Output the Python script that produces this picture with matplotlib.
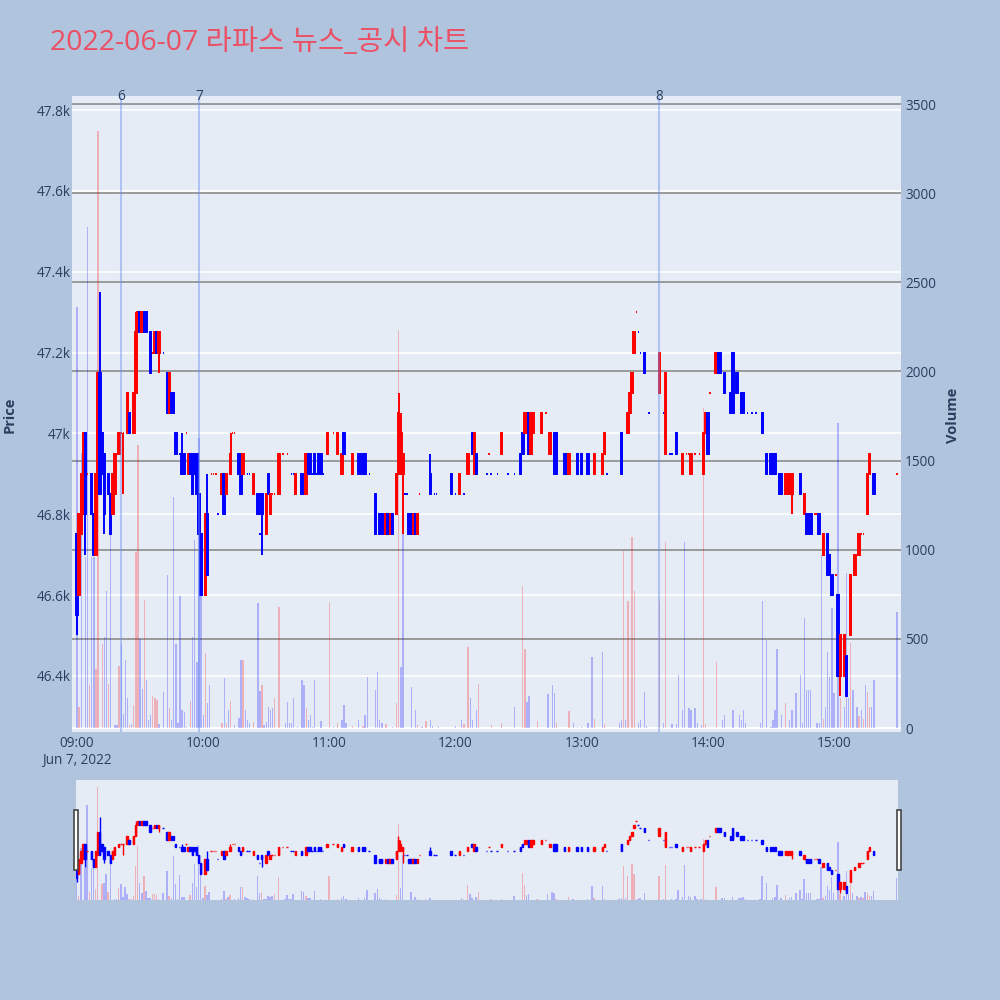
import matplotlib.pyplot as plt
import matplotlib.transforms as mtransforms
from matplotlib.patches import Rectangle
from matplotlib.ticker import FuncFormatter

plt.rcParams['font.family'] = ['Open Sans', 'Noto Sans CJK KR', 'DejaVu Sans']

title = '2022-06-07 라파스 뉴스_공시 차트'

# minute candles, minutes after 09:00
minute = [0, 1, 2, 3, 4, 5, 7, 8, 9, 10,
          11, 12, 13, 15, 16, 17, 18, 20, 21, 22,
          24, 25, 27, 28, 29, 30, 31, 32, 33, 35,
          36, 37, 38, 39, 41, 43, 44, 45, 46, 47,
          49, 50, 51, 52, 53, 54, 55, 56, 57, 58,
          59, 61, 62, 64, 65, 66, 67, 69, 70, 71,
          73, 74, 75, 77, 78, 79, 81, 82, 84, 86,
          87, 88, 90, 91, 92, 93, 94, 96, 98, 100,
          102, 103, 104, 107, 109, 110, 111, 112, 113, 114,
          115, 116, 117, 119, 122, 124, 126, 127, 131, 134,
          136, 137, 139, 142, 144, 145, 147, 148, 149, 150,
          152, 153, 154, 155, 156, 157, 158, 159, 160, 161,
          162, 163, 168, 170, 171, 178, 180, 182, 184, 186,
          188, 189, 190, 195, 196, 197, 200, 202, 205, 208,
          211, 212, 213, 214, 215, 216, 217, 221, 223, 225,
          227, 228, 232, 234, 238, 240, 243, 246, 250, 251,
          252, 259, 262, 263, 264, 265, 266, 267, 268, 270,
          272, 277, 279, 280, 282, 283, 285, 288, 290, 291,
          292, 294, 296, 298, 299, 300, 301, 304, 305, 306,
          308, 311, 312, 314, 316, 317, 319, 321, 323, 326,
          328, 330, 331, 332, 334, 335, 337, 338, 339, 340,
          344, 346, 347, 348, 349, 351, 352, 353, 355, 357,
          358, 359, 361, 362, 363, 365, 366, 368, 370, 372,
          373, 374, 376, 377, 379, 390]

opn = [46750, 46600, 46750, 46800, 47000, 46900, 46900, 46800, 46700, 46850,
       47150, 47000, 46950, 46900, 46850, 46800, 46850, 46950, 47000, 47000,
       47000, 47050, 47000, 47100, 47250, 47300, 47250, 47300, 47300, 47250,
       47200, 47200, 47250, 47200, 47200, 47150, 47050, 47100, 47100, 47000,
       46950, 46950, 46950, 47000, 46900, 46950, 46950, 46950, 46950, 46850,
       46750, 46600, 46800, 46900, 46900, 46900, 46800, 46850, 46900, 46850,
       46900, 47000, 47000, 46950, 46900, 46900, 46900, 46900, 46850, 46850,
       46750, 46850, 46750, 46900, 46800, 46850, 46850, 46850, 46950, 46950,
       46900, 46900, 46850, 46900, 46850, 46950, 46950, 46900, 46950, 46900,
       46950, 46950, 46900, 46950, 47000, 46950, 46900, 47000, 46900, 46950,
       46950, 46950, 46900, 46850, 46800, 46800, 46750, 46800, 46750, 46800,
       46800, 46900, 46900, 46900, 46850, 46850, 46800, 46800, 46750, 46800,
       46750, 46850, 46900, 46850, 46850, 46900, 46850, 46850, 46850, 46900,
       47000, 46900, 46950, 46900, 46950, 46900, 46900, 46950, 46900, 46900,
       46950, 47000, 47000, 47000, 47050, 46950, 47000, 47000, 47050, 46950,
       47000, 47000, 46950, 46900, 46950, 46950, 46950, 46900, 46900, 46950,
       46900, 47000, 47000, 47050, 47100, 47200, 47300, 47250, 47200, 47200,
       47050, 47100, 47050, 46950, 46950, 46950, 47000, 46900, 46950, 46950,
       46900, 46950, 46950, 46900, 47000, 47050, 47100, 47150, 47200, 47200,
       47150, 47100, 47200, 47150, 47100, 47100, 47050, 47050, 47050, 47050,
       46950, 46950, 46950, 46950, 46900, 46900, 46850, 46850, 46850, 46850,
       46900, 46800, 46800, 46800, 46800, 46800, 46800, 46800, 46700, 46750,
       46700, 46650, 46650, 46600, 46400, 46400, 46450, 46500, 46650, 46700,
       46750, 46750, 46800, 46900, 46900, 46900]

high = [46750, 46800, 46900, 47000, 47000, 46900, 46900, 46800, 46900, 47150,
        47350, 47000, 46950, 46900, 46850, 46900, 46950, 47000, 47000, 47000,
        47100, 47050, 47100, 47300, 47300, 47300, 47300, 47300, 47300, 47250,
        47200, 47250, 47250, 47250, 47200, 47150, 47150, 47100, 47100, 47000,
        46950, 47000, 46950, 47000, 46950, 46950, 46950, 46950, 46950, 46850,
        46750, 46800, 46900, 46900, 46900, 46900, 46800, 46900, 46900, 46900,
        47000, 47000, 47000, 46950, 46900, 46950, 46900, 46900, 46900, 46850,
        46750, 46850, 46850, 46900, 46850, 46850, 46850, 46950, 46950, 46950,
        46900, 46900, 46900, 46900, 46950, 46950, 46950, 46900, 46950, 46900,
        46950, 46950, 46900, 47000, 47000, 47000, 46950, 47000, 46950, 46950,
        46950, 46950, 46900, 46850, 46800, 46800, 46800, 46800, 46800, 46800,
        46900, 47100, 47050, 46950, 46850, 46850, 46800, 46800, 46800, 46800,
        46800, 46850, 46950, 46850, 46850, 46900, 46850, 46900, 46850, 46950,
        47000, 47000, 46950, 46900, 46950, 46900, 46900, 47000, 46900, 46900,
        46950, 47000, 47050, 47050, 47050, 47050, 47050, 47050, 47050, 47000,
        47000, 47000, 46950, 46950, 46950, 46950, 46950, 46950, 46950, 47000,
        46900, 47000, 47050, 47100, 47150, 47250, 47300, 47250, 47200, 47200,
        47050, 47200, 47050, 47150, 46950, 46950, 47000, 46950, 46950, 46950,
        46950, 46950, 46950, 47000, 47050, 47050, 47100, 47200, 47200, 47200,
        47150, 47100, 47200, 47150, 47100, 47100, 47050, 47050, 47050, 47050,
        46950, 46950, 46950, 46950, 46900, 46900, 46900, 46900, 46900, 46900,
        46900, 46850, 46800, 46800, 46800, 46800, 46800, 46800, 46750, 46750,
        46700, 46650, 46650, 46600, 46500, 46500, 46450, 46650, 46700, 46750,
        46750, 46750, 46900, 46950, 46900, 46900]

low = [46500, 46600, 46750, 46800, 46700, 46900, 46800, 46700, 46700, 46850,
       46850, 46900, 46750, 46850, 46750, 46800, 46850, 46950, 47000, 46850,
       47000, 47000, 47000, 47100, 47250, 47250, 47250, 47250, 47250, 47150,
       47200, 47200, 47200, 47150, 47200, 47050, 47050, 47050, 47050, 46950,
       46950, 46900, 46900, 47000, 46900, 46900, 46850, 46900, 46850, 46750,
       46600, 46600, 46650, 46900, 46900, 46900, 46800, 46850, 46800, 46850,
       46900, 47000, 47000, 46900, 46850, 46900, 46900, 46900, 46850, 46800,
       46750, 46700, 46750, 46850, 46800, 46850, 46850, 46850, 46950, 46950,
       46900, 46900, 46850, 46850, 46850, 46900, 46900, 46900, 46900, 46900,
       46900, 46900, 46900, 46950, 47000, 46950, 46900, 46950, 46900, 46900,
       46900, 46900, 46900, 46750, 46750, 46750, 46750, 46750, 46750, 46750,
       46800, 46900, 46900, 46750, 46850, 46850, 46750, 46750, 46750, 46750,
       46750, 46850, 46850, 46850, 46850, 46850, 46850, 46850, 46850, 46900,
       46950, 46900, 46900, 46900, 46950, 46900, 46900, 46950, 46900, 46900,
       46900, 46950, 47000, 47000, 46950, 46950, 47000, 47000, 47050, 46950,
       46900, 46900, 46900, 46900, 46900, 46900, 46900, 46900, 46900, 46950,
       46900, 46900, 47000, 47050, 47100, 47200, 47300, 47250, 47200, 47150,
       47050, 47100, 47050, 46950, 46950, 46950, 46950, 46900, 46950, 46950,
       46900, 46950, 46950, 46900, 47000, 46950, 47100, 47150, 47150, 47150,
       47100, 47050, 47050, 47100, 47050, 47050, 47050, 47050, 47050, 47000,
       46900, 46900, 46900, 46900, 46850, 46850, 46850, 46850, 46850, 46800,
       46850, 46800, 46750, 46750, 46750, 46800, 46800, 46750, 46700, 46650,
       46650, 46600, 46650, 46400, 46350, 46400, 46350, 46500, 46650, 46700,
       46750, 46750, 46800, 46900, 46850, 46900]

close = [46550, 46800, 46900, 47000, 46800, 46900, 46800, 46700, 46900, 47150,
         46850, 46900, 46800, 46850, 46750, 46900, 46950, 47000, 47000, 47000,
         47100, 47000, 47100, 47250, 47300, 47250, 47300, 47250, 47250, 47150,
         47200, 47250, 47200, 47250, 47200, 47050, 47150, 47050, 47050, 46950,
         46950, 46900, 46900, 47000, 46950, 46900, 46850, 46900, 46850, 46750,
         46600, 46800, 46650, 46900, 46900, 46900, 46800, 46900, 46800, 46900,
         46950, 47000, 47000, 46900, 46850, 46950, 46900, 46900, 46900, 46800,
         46750, 46800, 46850, 46850, 46850, 46850, 46850, 46950, 46950, 46950,
         46900, 46900, 46900, 46850, 46950, 46900, 46900, 46900, 46900, 46900,
         46900, 46900, 46900, 47000, 47000, 47000, 46950, 46950, 46950, 46900,
         46900, 46900, 46900, 46750, 46750, 46750, 46800, 46750, 46800, 46750,
         46900, 47050, 47000, 46950, 46850, 46850, 46750, 46750, 46800, 46750,
         46800, 46850, 46850, 46850, 46850, 46850, 46850, 46900, 46850, 46950,
         46950, 47000, 46900, 46900, 46950, 46900, 46900, 47000, 46900, 46900,
         46900, 46950, 47050, 47050, 46950, 47050, 47050, 47050, 47050, 47000,
         46900, 46900, 46900, 46950, 46900, 46900, 46900, 46950, 46950, 47000,
         46900, 46900, 47050, 47100, 47150, 47250, 47300, 47250, 47200, 47150,
         47050, 47200, 47050, 47150, 46950, 46950, 46950, 46950, 46950, 46950,
         46950, 46950, 46950, 47000, 47050, 46950, 47100, 47200, 47150, 47150,
         47100, 47050, 47050, 47100, 47050, 47050, 47050, 47050, 47050, 47000,
         46900, 46900, 46900, 46900, 46850, 46850, 46900, 46900, 46900, 46900,
         46850, 46850, 46750, 46750, 46750, 46800, 46800, 46750, 46750, 46650,
         46650, 46600, 46650, 46400, 46500, 46500, 46350, 46650, 46700, 46750,
         46750, 46750, 46900, 46950, 46850, 46900]

# volume bars (red = buying, blue = selling)
vol_up_min = [1, 6, 9, 10, 12, 15, 20, 25, 27, 28,
              29, 32, 36, 37, 38, 44, 54, 61, 69, 71,
              73, 79, 84, 88, 94, 96, 109, 120, 124, 131,
              136, 147, 152, 153, 162, 166, 184, 186, 191, 197,
              202, 212, 213, 219, 228, 234, 246, 251, 260, 262,
              264, 265, 277, 280, 298, 299, 304, 337, 355, 363,
              368, 372, 374, 376, 377]
vol_up = [120, 240, 330, 3350, 470, 250, 350, 15, 130, 990,
          1590, 718, 180, 170, 160, 110, 150, 420, 26, 26,
          150, 381, 35, 241, 166, 680, 110, 708, 30, 10,
          10, 25, 138, 2232, 20, 40, 25, 456, 250, 20,
          30, 796, 446, 40, 30, 96, 50, 25, 994, 712,
          1070, 770, 712, 1045, 1795, 25, 372, 140, 50, 166,
          475, 70, 50, 204, 120]

vol_dn_min = [0, 2, 4, 5, 7, 8, 13, 14, 16, 18,
              19, 21, 22, 23, 24, 26, 30, 31, 33, 34,
              35, 39, 41, 43, 45, 46, 47, 48, 49, 50,
              51, 52, 55, 56, 57, 58, 59, 60, 62, 63,
              70, 72, 75, 77, 78, 80, 81, 82, 86, 87,
              89, 90, 91, 92, 93, 99, 100, 101, 102, 103,
              105, 107, 108, 110, 111, 112, 113, 116, 122, 126,
              127, 128, 134, 137, 138, 142, 143, 144, 145, 150,
              154, 155, 159, 161, 164, 168, 169, 172, 180, 183,
              187, 188, 190, 208, 214, 215, 224, 226, 227, 236,
              238, 240, 243, 245, 250, 258, 259, 261, 267, 268,
              270, 271, 279, 283, 285, 286, 288, 289, 291, 292,
              294, 295, 297, 307, 308, 312, 315, 316, 317, 318,
              325, 326, 328, 330, 331, 332, 333, 335, 339, 340,
              342, 344, 345, 346, 347, 348, 349, 352, 353, 354,
              356, 357, 358, 359, 360, 362, 365, 366, 367, 369,
              371, 373, 375, 378, 379, 390]
vol_dn = [2360, 1540, 960, 2810, 960, 960, 510, 770, 1250, 20,
          15, 470, 80, 380, 170, 25, 500, 220, 270, 45,
          73, 25, 204, 858, 45, 1297, 470, 26, 740, 100,
          90, 5, 510, 1054, 372, 1626, 740, 73, 138, 241,
          280, 101, 15, 55, 381, 101, 45, 26, 700, 210,
          15, 35, 120, 101, 110, 26, 148, 30, 26, 166,
          5, 269, 241, 45, 73, 5, 269, 40, 5, 45,
          129, 26, 45, 73, 288, 213, 316, 45, 26, 5,
          344, 1340, 232, 101, 5, 45, 10, 5, 10, 45,
          166, 45, 101, 120, 148, 180, 189, 241, 195, 26,
          5, 5, 26, 400, 428, 26, 45, 45, 26, 45,
          204, 10, 30, 25, 25, 297, 101, 1045, 110, 101,
          110, 26, 20, 45, 73, 101, 73, 45, 101, 26,
          26, 712, 493, 5, 45, 101, 446, 73, 45, 101,
          195, 297, 26, 617, 213, 213, 213, 26, 26, 970,
          120, 428, 288, 672, 195, 1710, 120, 868, 166, 213,
          120, 101, 241, 120, 269, 652]

# news / disclosure markers
news_min = [21, 58, 277]
news_label = ['6', '7', '8']

hour_ticks = [0, 60, 120, 180, 240, 300, 360]
hour_labels = ['09:00\nJun 7, 2022', '10:00', '11:00', '12:00', '13:00', '14:00', '15:00']

UP = '#ff0000'
DOWN = '#0000ff'
TXT = '#2a3f5f'
BG = '#e5ecf6'
PAPER = '#b0c4de'

P_LIM = (46261, 47835)
V_LIM = (-22, 3545)


def candle_colors():
    cols = []
    prev_c, prev_col = close[0], DOWN
    for o, c in zip(opn, close):
        if c > o:
            col = UP
        elif c < o:
            col = DOWN
        elif c > prev_c:
            col = UP
        elif c < prev_c:
            col = DOWN
        else:
            col = prev_col
        cols.append(col)
        prev_c, prev_col = c, col
    return cols


def draw_candles(a, cols, width, lw):
    a.vlines(minute, low, high, colors=cols, lw=lw, zorder=3)
    heights = [c - o for o, c in zip(opn, close)]
    a.bar(minute, heights, width, bottom=opn, color=cols, edgecolor=cols,
          lw=lw, zorder=3)


def draw_volume(a, width):
    a.bar(vol_up_min, vol_up, width, color=UP, alpha=0.25, lw=0, zorder=2)
    a.bar(vol_dn_min, vol_dn, width, color=DOWN, alpha=0.25, lw=0, zorder=2)


cols = candle_colors()

fig = plt.figure(figsize=(10, 10), dpi=100, facecolor=PAPER)
fig.text(0.05, 0.95, title, fontsize=20.5, color='#eb5064', va='baseline')

# main chart: price (left) over volume (right)
ax = fig.add_axes([0.072, 0.268, 0.829, 0.636])
axv = ax.twinx()
ax.set_zorder(axv.get_zorder() + 1)
ax.patch.set_visible(False)
axv.patch.set_visible(True)
axv.set_facecolor(BG)

ax.set_xlim(-2.4, 391.9)
ax.set_ylim(*P_LIM)
axv.set_ylim(*V_LIM)

price_ticks = [46400, 46600, 46800, 47000, 47200, 47400, 47600, 47800]
grid_tr = mtransforms.blended_transform_factory(axv.transAxes, ax.transData)
for p in price_ticks:
    axv.plot([0, 1], [p, p], color='white', lw=1.2, transform=grid_tr, zorder=0.5)

vol_ticks = [0, 500, 1000, 1500, 2000, 2500, 3000, 3500]
axv.set_yticks(vol_ticks)
axv.grid(axis='y', color='#8c8c8c', lw=1.2, zorder=0.6)
axv.set_axisbelow(True)
axv.axhline(0, color='white', lw=1.5, zorder=0.7)

draw_volume(axv, 0.65)
draw_candles(ax, cols, 0.7, 1.4)

top_tr = mtransforms.blended_transform_factory(ax.transData, ax.transAxes)
for m, lab in zip(news_min, news_label):
    ax.axvline(m, color='#6f8ff0', alpha=0.45, lw=1.5, zorder=4)
    ax.text(m, 1.0, lab, transform=top_tr, ha='center', va='center',
            fontsize=9.8, color=TXT, zorder=5)

ax.set_yticks(price_ticks)
ax.yaxis.set_major_formatter(FuncFormatter(lambda v, _: f'{v / 1000:g}k'))
ax.set_xticks(hour_ticks)
ax.set_xticklabels(hour_labels, linespacing=1.15)
ax.tick_params(axis='both', length=0, labelsize=9.8, labelcolor=TXT)
ax.tick_params(axis='y', pad=1)
ax.tick_params(axis='x', pad=3)
axv.tick_params(axis='y', length=0, labelsize=9.8, labelcolor=TXT, pad=3)
for a in (ax, axv):
    for s in a.spines.values():
        s.set_visible(False)

fig.text(0.010, 0.585, 'Price', rotation=90, ha='center', va='center',
         fontsize=10.5, fontweight='bold', color=TXT)
fig.text(0.953, 0.585, 'Volume', rotation=90, ha='center', va='center',
         fontsize=10.5, fontweight='bold', color=TXT)

# range slider
rs = fig.add_axes([0.076, 0.1, 0.822, 0.12])
rsv = rs.twinx()
rs.set_zorder(rsv.get_zorder() + 1)
rs.patch.set_visible(False)
rsv.patch.set_visible(True)
rsv.set_facecolor(BG)
rs.set_xlim(-0.3, 390.6)
rs.set_ylim(*P_LIM)
rsv.set_ylim(0, 3545)
draw_volume(rsv, 0.7)
draw_candles(rs, cols, 0.7, 1.0)
for a in (rs, rsv):
    a.set_xticks([])
    a.set_yticks([])
    for s in a.spines.values():
        s.set_visible(False)

for hx in (0.0735, 0.8965):
    fig.patches.append(Rectangle((hx, 0.13), 0.004, 0.06, transform=fig.transFigure,
                                 facecolor='white', edgecolor='#444444', lw=1.2))

fig.savefig('out.png', dpi=100, facecolor=PAPER)
